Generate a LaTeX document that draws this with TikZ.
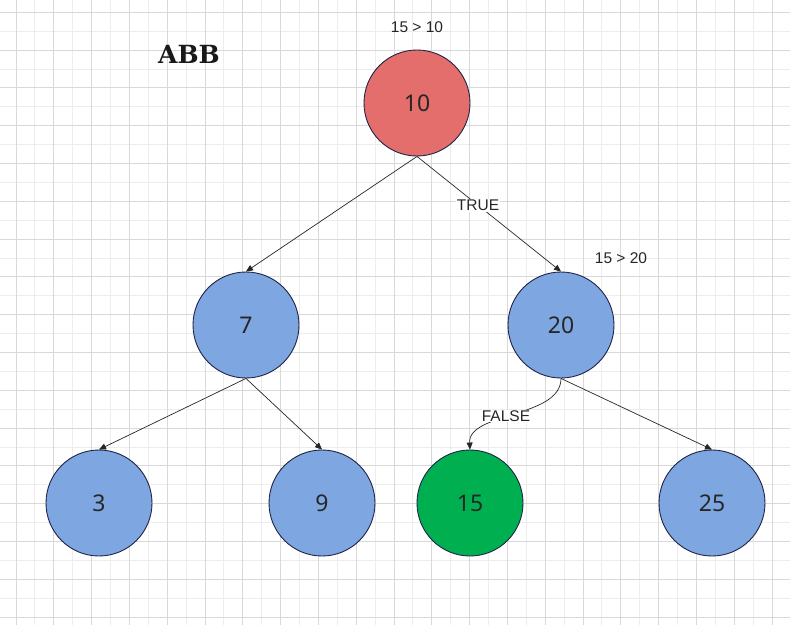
\documentclass[tikz,border=0pt]{standalone}
\usepackage{fontspec}
\setmainfont{Liberation Sans}
\newfontfamily\numfont{Noto Sans}
\newfontfamily\titlefont{DejaVu Serif}
\usetikzlibrary{arrows.meta}
\definecolor{gridmajor}{HTML}{D9D9D9}
\definecolor{gridminor}{HTML}{EDEDED}
\definecolor{keyred}{HTML}{E46E6C}
\definecolor{keyblue}{HTML}{7EA6E0}
\definecolor{keygreen}{HTML}{00B050}
\definecolor{rim}{HTML}{1F2347}
\tikzset{
  bstnode/.style={circle, draw=rim, line width=0.9pt, minimum size=106pt, inner sep=0pt,
    font=\numfont\fontsize{23}{26}\selectfont, text=black!85},
  link/.style={draw=black!85, line width=0.7pt, -{Triangle[length=7pt,width=6pt]}},
  tag/.style={font=\fontsize{15.5}{18}\selectfont, text=black!85, inner sep=1pt},
}
\begin{document}
\begin{tikzpicture}[x=1pt,y=-1pt]
  \useasboundingbox (0,0) rectangle (790,625);
  \fill[white] (0,0) rectangle (790,625);
  % background grid: light minor lines, darker major lines
  \foreach \x in {34.9,72.7,...,790} \draw[gridminor, line width=1pt] (\x,0) -- (\x,625);
  \foreach \y in {31.2,69,...,625} \draw[gridminor, line width=1pt] (0,\y) -- (790,\y);
  \foreach \x in {16,53.8,...,790} \draw[gridmajor, line width=1pt] (\x,0) -- (\x,625);
  \foreach \y in {12.3,50.1,...,625} \draw[gridmajor, line width=1pt] (0,\y) -- (790,\y);

  % title
  \node[font=\titlefont\bfseries\fontsize{25}{30}\selectfont, text=black!90] (title) at (189,54) {ABB};

  % tree nodes
  \node[bstnode, fill=keyred]   (n10) at (417,103) {10};
  \node[bstnode, fill=keyblue]  (n7)  at (246,325) {7};
  \node[bstnode, fill=keyblue]  (n20) at (561,325) {20};
  \node[bstnode, fill=keyblue]  (n3)  at (99,503)  {3};
  \node[bstnode, fill=keyblue]  (n9)  at (322,503) {9};
  \node[bstnode, fill=keygreen] (n15) at (470,503) {15};
  \node[bstnode, fill=keyblue]  (n25) at (712,503) {25};

  % comparisons
  \node[tag] (cmp1) at (417,27) {15 > 10};
  \node[tag] (cmp2) at (621,258) {15 > 20};

  % connectors
  \draw[link] (n10.south) -- node[tag, fill=white, pos=0.424] (ltrue) {TRUE} (n20.north);
  \draw[link] (n10.south) -- (n7.north);
  \draw[link] (n7.south) -- (n3.north);
  \draw[link] (n7.south) -- (n9.north);
  \draw[link] (n20.south) -- (n25.north);
  \draw[link] (n20.south) .. controls (561,418) and (468,412) .. (n15.north);
  \node[tag, fill=white] (lfalse) at (506,416) {FALSE};
\end{tikzpicture}
\end{document}
